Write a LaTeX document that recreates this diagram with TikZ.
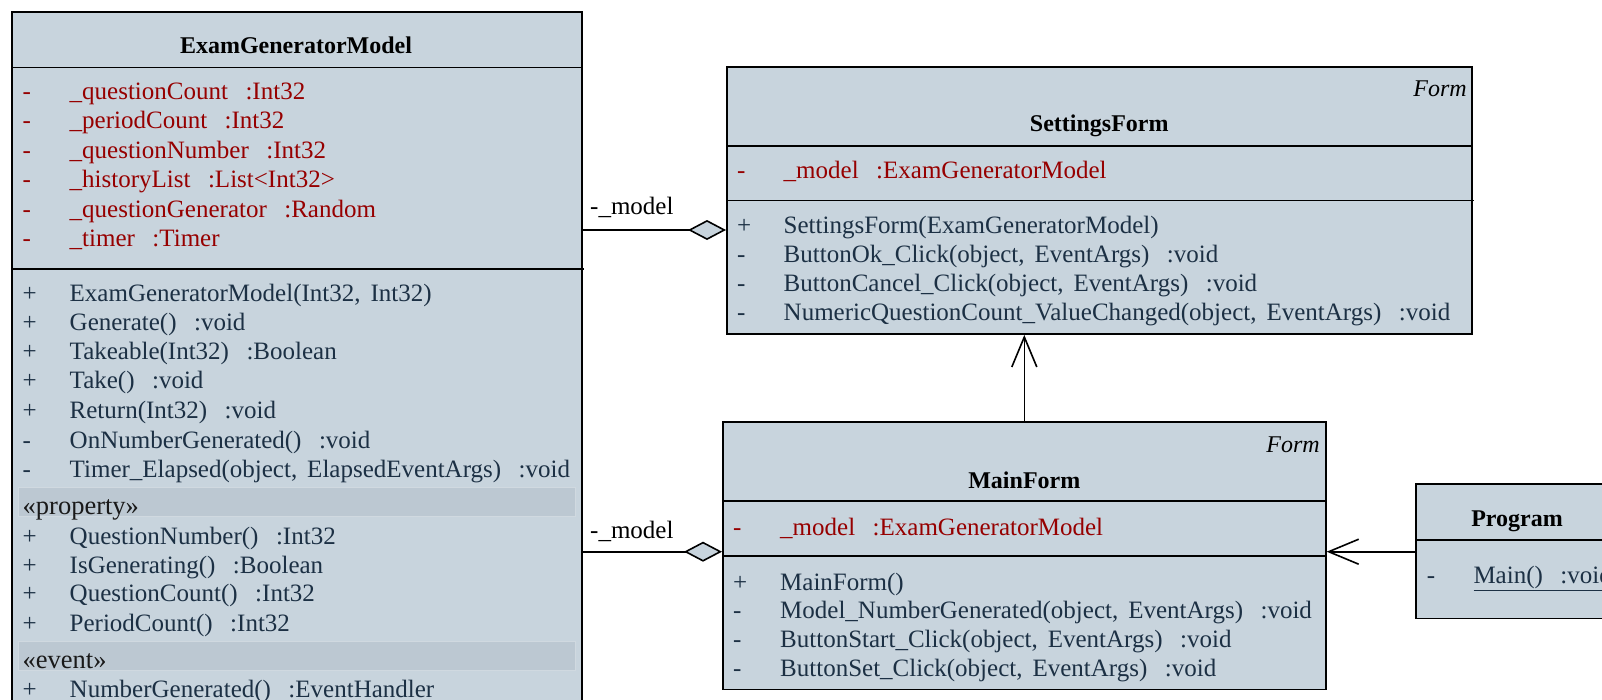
\documentclass[tikz,border=0pt]{standalone}
\usepackage{fontspec}
\setmainfont{Liberation Serif}
\usetikzlibrary{arrows.meta}
\definecolor{boxfill}{RGB}{200,212,221}
\definecolor{bandfill}{RGB}{188,200,210}
\definecolor{bandline}{RGB}{208,217,224}
\definecolor{attrcol}{RGB}{150,0,0}
\definecolor{opcol}{RGB}{28,48,68}
\newcommand\gp{\kern0.7em\relax}
\newcommand\rowfont{\fontsize{25}{29}\selectfont\spaceskip=0.4em plus 0.1em\relax}
\tikzset{
 cls/.style={draw=black, line width=1.6pt, fill=boxfill, rectangle, inner sep=0pt, anchor=north west},
 txt/.style={inner sep=0pt, anchor=base west, font=\rowfont},
 attr/.style={txt, text=attrcol},
 op/.style={txt, text=opcol},
 plain/.style={inner sep=0pt, anchor=base west, text=black!90, font=\fontsize{26.5}{29}\selectfont},
 ttl/.style={inner sep=0pt, anchor=base, font=\fontsize{24}{29}\selectfont\bfseries},
 stereo/.style={inner sep=0pt, anchor=base east, font=\fontsize{24}{29}\selectfont\itshape},
 divider/.style={line width=1.6pt},
 band/.style={fill=bandfill, draw=bandline, line width=1pt},
 assoc/.style={line width=1.6pt, -{Diamond[length=38pt,width=20pt,fill=boxfill]}},
 dep/.style={line width=1.6pt, -{Straight Barb[length=30pt,width=25pt]}},
}
\begin{document}
\begin{tikzpicture}[x=1pt,y=-1pt]
\useasboundingbox (0,0) rectangle (1602,699);
\clip (0,0) rectangle (1602,699);
\fill[white] (0,0) rectangle (1602,699);

% ---------- ExamGeneratorModel ----------
\node[cls, minimum width=570.2pt, minimum height=720pt] (egm) at (11.2,11.2) {};
\draw[divider] (egm.west |- 0,67.4) -- (egm.east |- 0,67.4);
\draw[divider] (egm.west |- 0,268.7) -- (584,268.7);
\fill[band] (18.4,487.7) rectangle (575,516.7);
\fill[band] (18.4,641.7) rectangle (575,670);
\node[ttl] (egmt) at (296,53) {ExamGeneratorModel};
\foreach \y/\n/\t in {99/a1/{\_questionCount\gp:Int32},128.5/a2/{\_periodCount\gp:Int32},158/a3/{\_questionNumber\gp:Int32},187.7/a4/{\_historyList\gp:List<Int32>},217/a5/{\_questionGenerator\gp:Random},246.3/a6/{\_timer\gp:Timer}}{
  \node[attr] (egm-\n s) at (22.5,\y) {-};
  \node[attr] (egm-\n) at (69.5,\y) {\t};
}
\foreach \y/\n/\s/\t in {301.3/m1/+/{ExamGeneratorModel(Int32, Int32)},330.3/m2/+/{Generate()\gp:void},359.7/m3/+/{Takeable(Int32)\gp:Boolean},388.7/m4/+/{Take()\gp:void},418/m5/+/{Return(Int32)\gp:void},448/m6/-/{OnNumberGenerated()\gp:void},477/m7/-/{Timer\_Elapsed(object, ElapsedEventArgs)\gp:void},544/p1/+/{QuestionNumber()\gp:Int32},573/p2/+/{IsGenerating()\gp:Boolean},601.3/p3/+/{QuestionCount()\gp:Int32},631.3/p4/+/{PeriodCount()\gp:Int32},697/e1/+/{NumberGenerated()\gp:EventHandler}}{
  \node[op] (egm-\n s) at (22.5,\y) {\s};
  \node[op] (egm-\n) at (69.5,\y) {\t};
}
\node[plain] (egm-prop) at (22.5,514) {«property»};
\node[plain] (egm-evt) at (22.5,668) {«event»};

% ---------- SettingsForm ----------
\node[cls, minimum width=745pt, minimum height=267.3pt] (sf) at (726,66) {};
\node[stereo] (sf-st) at (1467,96) {Form};
\node[ttl] (sf-t) at (sf.north |- 0,131) {SettingsForm};
\draw[divider] (sf.west |- 0,146) -- (sf.east |- 0,146);
\draw[divider] (sf.west |- 0,200.5) -- (1474,200.5);
\node[attr] (sf-a1s) at (737,178) {-};
\node[attr] (sf-a1) at (783.5,178) {\_model\gp:ExamGeneratorModel};
\foreach \y/\n/\s/\t in {233/m1/+/{SettingsForm(ExamGeneratorModel)},262/m2/-/{ButtonOk\_Click(object, EventArgs)\gp:void},291/m3/-/{ButtonCancel\_Click(object, EventArgs)\gp:void},320/m4/-/{NumericQuestionCount\_ValueChanged(object, EventArgs)\gp:void}}{
  \node[op] (sf-\n s) at (737,\y) {\s};
  \node[op] (sf-\n) at (783.5,\y) {\t};
}

% ---------- MainForm ----------
\node[cls, minimum width=603pt, minimum height=267.5pt] (mf) at (722,421) {};
\node[stereo] (mf-st) at (1320,452.5) {Form};
\node[ttl] (mf-t) at (mf.north |- 0,488) {MainForm};
\draw[divider] (mf.west |- 0,501) -- (mf.east |- 0,501);
\draw[divider] (mf.west |- 0,555.8) -- (mf.east |- 0,555.8);
\node[attr] (mf-a1s) at (733,535) {-};
\node[attr] (mf-a1) at (780,535) {\_model\gp:ExamGeneratorModel};
\foreach \y/\n/\s/\t in {590/m1/+/{MainForm()},618.5/m2/-/{Model\_NumberGenerated(object, EventArgs)\gp:void},647.5/m3/-/{ButtonStart\_Click(object, EventArgs)\gp:void},676.5/m4/-/{ButtonSet\_Click(object, EventArgs)\gp:void}}{
  \node[op] (mf-\n s) at (733,\y) {\s};
  \node[op] (mf-\n) at (780,\y) {\t};
}

% ---------- Program ----------
\node[cls, minimum width=205pt, minimum height=134.4pt] (prog) at (1415,483.3) {};
\node[ttl] (prog-t) at (1517,526) {Program};
\draw[divider] (prog.west |- 0,540) -- (prog.east |- 0,540);
\node[op] (prog-m1s) at (1426.7,583) {-};
\node[op] (prog-m1) at (1473.3,583) {\underline{Main()\gp:void}};

% ---------- connectors ----------
\draw[assoc] (egm.east |- 0,230) -- (sf.west |- 0,230);
\node[txt] (lab1) at (590,214.7) {-\_model};
\draw[assoc] (egm.east |- 0,551.7) -- (mf.west |- 0,551.7);
\node[txt] (lab2) at (590,538) {-\_model};
\draw[dep] (mf.north -| 1024.3,0) -- (sf.south -| 1024.3,0);
\draw[dep] (prog.west |- 0,551.7) -- (mf.east |- 0,551.7);
\end{tikzpicture}
\end{document}
